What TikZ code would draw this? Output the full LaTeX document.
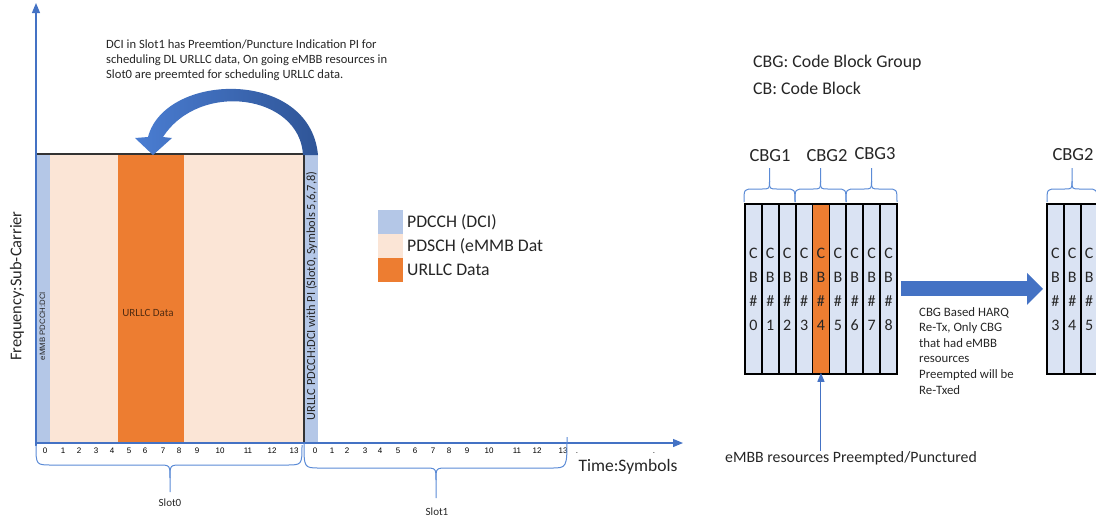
\documentclass[tikz,border=0pt]{standalone}
\usepackage{fontspec}
\setmainfont{Carlito}
\newfontfamily\arialfont{Liberation Sans}
\usetikzlibrary{arrows.meta}

\definecolor{pdcch}{HTML}{B4C7E7}
\definecolor{pdsch}{HTML}{FBE5D6}
\definecolor{urllc}{HTML}{ED7D31}
\definecolor{axisblue}{HTML}{4472C4}
\definecolor{bracecol}{HTML}{5B8BD6}
\definecolor{cbfill}{HTML}{DAE3F3}
\definecolor{txt}{HTML}{262626}
\definecolor{arcdark}{HTML}{2F5597}
\definecolor{arclight}{HTML}{4A7DD2}

\begin{document}
\begin{tikzpicture}[x=1pt,y=-1pt,
  region/.style={anchor=north west, inner sep=0, outer sep=0, minimum height=289},
  axisline/.style={draw=axisblue, line width=1.2, -{Triangle[width=8,length=10]}},
  bracestyle/.style={draw=bracecol, line width=1},
  ticklbl/.style={font=\arialfont\fontsize{8}{9}\selectfont, anchor=base, inner sep=0},
  legbox/.style={anchor=north west, minimum width=25, minimum height=24, inner sep=0},
  legtext/.style={anchor=west, font=\fontsize{17.7}{20}\selectfont, text=txt, inner sep=0},
  cbcol/.style={draw=black, line width=1.8, fill=cbfill, minimum width=16.9, minimum height=170,
    inner sep=0, anchor=north west, align=center, font=\fontsize{16}{24}\selectfont, text=txt},
  cbglbl/.style={font=\fontsize{18.5}{20}\selectfont, text=txt, inner sep=0},
  plain/.style={text=txt, inner sep=0}
]
\useasboundingbox (0,0) rectangle (1096,520);
\clip (0,0) rectangle (1096,520);

% ---------------- resource grid of slot 0 ----------------
\node[region, fill=pdcch, minimum width=15]  (ctrl0) at (35,154) {};
\node[region, fill=pdsch, minimum width=68]  (dataA) at (50,154) {};
\node[region, fill=urllc, minimum width=66]  (urllc) at (118,154) {};
\node[region, fill=pdsch, minimum width=120] (dataB) at (184,154) {};
\node[region, fill=pdcch, minimum width=14]  (ctrl1) at (304,154) {};
\draw[black!80, line width=1.2] (ctrl0.north west) -- (dataB.north east) -- (dataB.south east);

\node[plain, rotate=90, font=\arialfont\fontsize{7.8}{9}\selectfont] (emmbdci) at (42.5,326) {eMMB PDCCH:DCI};
\node[plain, text=urllc!35!black, font=\fontsize{11}{12}\selectfont] (urllclbl) at (148,313) {URLLC Data};
\node[plain, rotate=90, font=\fontsize{12.4}{14}\selectfont] (urllcdci) at (311.5,296) {URLLC PDCCH:DCI with PI (Slot0, Symbols 5,6,7,8)};

% curved indication arrow from the slot-1 DCI back into slot 0
\shade[left color=arclight, right color=arcdark]
  (303,155) .. controls (300,95) and (200,80) .. (163,137)
  -- (172,138) -- (153,155) -- (135,138) -- (148,137)
  .. controls (165,72) and (310,68) .. (318,155) -- cycle;

\node[plain, anchor=north west, align=left, font=\fontsize{12.6}{15}\selectfont] (note) at (106,40)
  {DCI in Slot1 has Preemtion/Puncture Indication PI for\\
   scheduling DL URLLC data, On going eMBB resources in\\
   Slot0 are preemted for scheduling URLLC data.};

% ---------------- axes ----------------
\coordinate (origin) at (36,443);
\coordinate (ytop) at (36,3);
\coordinate (xend) at (683,443);
\draw[axisline] (36,446) -- (ytop);
\draw[axisline] (origin) -- (xend);

\foreach \xx [count=\n from 0] in {45,63,79,96,112,129,145,163,179,197,220,248,272,294}
  \node[ticklbl] (s0t\n) at (\xx,453.5) {\n};
\foreach \xx [count=\n from 0] in {315,332,347,365,380,398,415,433,449,467,489,517,537,563}
  \node[ticklbl] (s1t\n) at (\xx,453.5) {\n};
\node[ticklbl] (dotA) at (577,453.5) {.};
\node[ticklbl] (dotB) at (654,453.5) {.};

\node[plain, rotate=90, font=\fontsize{16.4}{18}\selectfont] (ylabel) at (17,286) {Frequency:Sub-Carrier};
\node[plain, font=\fontsize{17.5}{20}\selectfont] (xlabel) at (628,467) {Time:Symbols};

% slot braces
\draw[bracestyle] (36,445) .. controls (36,465) .. (52,465) -- (158,465) .. controls (170,465) .. (170,478) -- (170,492);
\draw[bracestyle] (302,445) .. controls (302,465) .. (286,465) -- (182,465) .. controls (170,465) .. (170,478);
\draw[bracestyle] (304,443) .. controls (304,468) .. (320,468) -- (424,468) .. controls (436,468) .. (436,480) -- (436,498);
\draw[bracestyle] (567,437) .. controls (567,468) .. (551,468) -- (448,468) .. controls (436,468) .. (436,480);
\node[plain, font=\fontsize{11}{12}\selectfont] (slot0) at (170,503) {Slot0};
\node[plain, font=\fontsize{11}{12}\selectfont] (slot1) at (437,512) {Slot1};

% ---------------- legend ----------------
\node[legbox, fill=pdcch] (lg1) at (378,210) {};
\node[legbox, fill=pdsch] (lg2) at (378,234) {};
\node[legbox, fill=urllc] (lg3) at (378,258) {};
\node[legtext] (lt1) at (407,222) {PDCCH (DCI)};
\node[legtext] (lt2) at (407,246) {PDSCH (eMMB Dat};
\node[legtext] (lt3) at (407,270) {URLLC Data};

% ---------------- code block groups ----------------
\node[plain, anchor=west, font=\fontsize{17.8}{20}\selectfont] (def1) at (753,63) {CBG: Code Block Group};
\node[plain, anchor=west, font=\fontsize{17.8}{20}\selectfont] (def2) at (753,88) {CB: Code Block};

\foreach \i in {0,...,8}
  \node[cbcol] (cb\i) at (744+16.9*\i,203) {C\\B\\\#\\\i};
\node[cbcol, fill=urllc] (cb4) at (744+16.9*4,203) {C\\B\\\#\\4};

% group braces over the code blocks
\foreach \a/\b in {744/795, 795/846, 846/897, 1047/1097}{
  \pgfmathsetmacro\m{(\a+\b)/2}
  \draw[bracestyle] (\a,202) .. controls (\a,189) .. (\a+10,189) -- (\m-8,189) .. controls (\m,189) .. (\m,181) -- (\m,168);
  \draw[bracestyle] (\b,202) .. controls (\b,189) .. (\b-10,189) -- (\m+8,189) .. controls (\m,189) .. (\m,181);
}
\node[cbglbl] (cbg1) at (770,156) {CBG1};
\node[cbglbl] (cbg2) at (827,156) {CBG2};
\node[cbglbl] (cbg3) at (875,154) {CBG3};
\node[cbglbl] (cbg2r) at (1073,155) {CBG2};

% retransmitted code block group
\node[cbcol] (rcb3) at (1046,203) {C\\B\\\#\\3};
\node[cbcol] (rcb4) at (1062.9,203) {C\\B\\\#\\4};
\node[cbcol] (rcb5) at (1079.8,203) {C\\B\\\#\\5};

% retransmission arrow
\draw[draw=axisblue, line width=15, -{Triangle[width=31,length=16]}]
  ([xshift=3]cb8.east) -- ([xshift=-3]rcb3.west);
\node[plain, anchor=north west, align=left, font=\fontsize{12.8}{15.6}\selectfont] (harq) at (919,307)
  {CBG Based HARQ\\Re-Tx, Only CBG\\that had eMBB\\resources\\Preempted will be\\Re-Txed};

% punctured block marker
\node[plain, font=\fontsize{15.8}{18}\selectfont] (punct) at (851,458) {eMBB resources Preempted/Punctured};
\draw[draw=axisblue, line width=1, -{Triangle[width=7,length=9]}]
  (punct.north -| cb4.south) -- ([yshift=2]cb4.south);
\end{tikzpicture}
\end{document}
